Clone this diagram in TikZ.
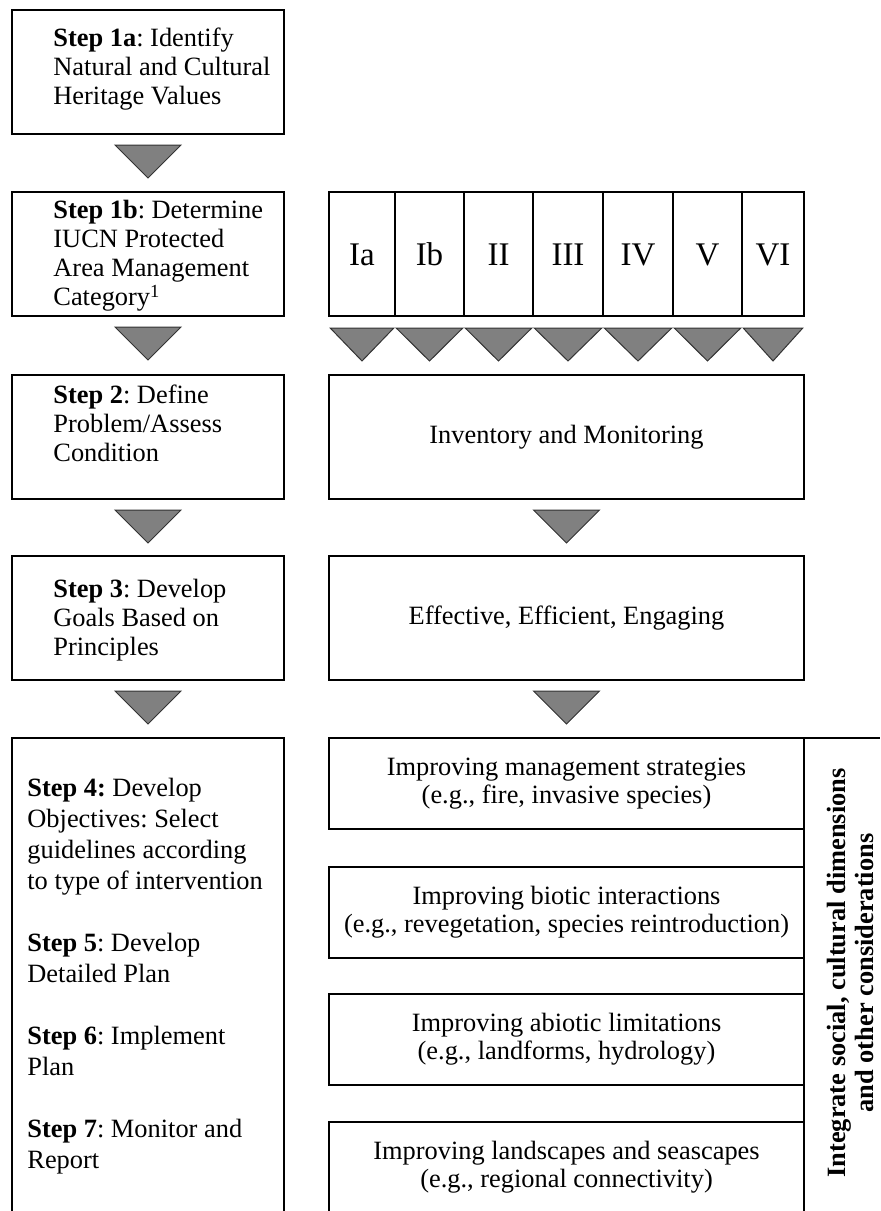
\documentclass[tikz,border=0pt]{standalone}
\usepackage{fontspec}
\setmainfont{Liberation Serif}
\usepackage{tikz}
\frenchspacing
\tikzstyle{Box}=[draw,line width=.6pt,inner sep=0pt,outer sep=0pt,
minimum width=136pt,minimum height=62pt]
\tikzstyle{Wide}=[Box,minimum width=237.5pt,align=center,
font=\fontsize{13.2}{14}\selectfont]
\tikzstyle{StepTxt}=[anchor=north west,inner sep=0pt,align=left,
font=\fontsize{13.2}{14.5}\selectfont]
\tikzstyle{Cat}=[draw,line width=.6pt,inner sep=0pt,outer sep=0pt,
minimum height=62pt,text height=11pt,text depth=0pt,
font=\fontsize{16.5}{18}\selectfont]
\tikzstyle{Tri}=[draw=black!80,fill=gray,line width=.5pt,line join=miter]
\tikzstyle{Side}=[font=\bfseries\fontsize{13.2}{14}\selectfont,rotate=90,
align=center]

\begin{document}
\begin{tikzpicture}[x=.5pt,y=-.5pt]
        \clip(0,0)rectangle(880,1211);
        \node[Box](1a)at(148,72){};
        \node[Box](1b)at(148,254){};
        \node[Box](2)at(148,437){};
        \node[Box](3)at(148,618){};
        \node[Box,minimum height=239pt](4)at(148,977){};
        \node[StepTxt](t1a)at(53,28)
            {\textbf{Step 1a}: Identify\\Natural and Cultural\\Heritage Values};
        \node[StepTxt](t1b)at(53,200)
            {\textbf{Step 1b}: Determine\\IUCN Protected\\Area Management\\
            Category\textsuperscript{1}};
        \node[StepTxt](t2)at(53,385)
            {\textbf{Step 2}: Define\\Problem/Assess\\Condition};
        \node[StepTxt](t3)at(53,579)
            {\textbf{Step 3}: Develop\\Goals Based on\\Principles};
        \node[StepTxt,font=\fontsize{13.2}{15.5}\selectfont](t4)at(27,778)
            {\textbf{Step 4:} Develop\\Objectives: Select\\guidelines according\\
            to type of intervention\\[15.5pt]\textbf{Step 5}: Develop\\
            Detailed Plan\\[15.5pt]\textbf{Step 6}: Implement\\Plan\\[15.5pt]
            \textbf{Step 7}: Monitor and\\Report};
        \foreach \n/\a/\b in {Ia/329/395,Ib/395/464,II/464/533,III/533/603,
            IV/603/673,V/673/742,VI/742/804}{
            \node[Cat,minimum width={(\b-\a)*.5pt}](\n)at({(\a+\b)/2},254){\n};
            \draw[Tri]([xshift=.6pt,yshift=-6pt]\n.south west)
                --([xshift=-.6pt,yshift=-6pt]\n.south east)
                --([yshift=-22.5pt]\n.south)--cycle;
        }
        \node[Wide](inv)at(566.5,437){Inventory and Monitoring};
        \node[Wide](eee)at(566.5,618){Effective, Efficient, Engaging};
        \node[Wide,minimum height=45.5pt](r1)at(566.5,783.5)
            {Improving management strategies\\(e.g., fire, invasive species)};
        \node[Wide,minimum height=45.5pt](r2)at(566.5,912.5)
            {Improving biotic interactions\\
            (e.g., revegetation, species reintroduction)};
        \node[Wide,minimum height=45.5pt](r3)at(566.5,1039.5)
            {Improving abiotic limitations\\(e.g., landforms, hydrology)};
        \node[Wide,minimum height=45.5pt](r4)at(566.5,1167.5)
            {Improving landscapes and seascapes\\(e.g., regional connectivity)};
        \foreach \n in {1a,1b,2,3,inv,eee}{
            \draw[Tri]([xshift=-16.5pt,yshift=-5.5pt]\n.south)
                --([xshift=16.5pt,yshift=-5.5pt]\n.south)
                --([yshift=-22pt]\n.south)--cycle;
        }
        \coordinate(e)at(880,738);
        \draw[line width=.6pt](r1.north east)--(e);
        \draw[line width=1.1pt](r1.north east)--(r4.south east);
        \node[Side](int)at(850,973)
            {Integrate social, cultural dimensions\\and other considerations};
    \end{tikzpicture}
\end{document}
